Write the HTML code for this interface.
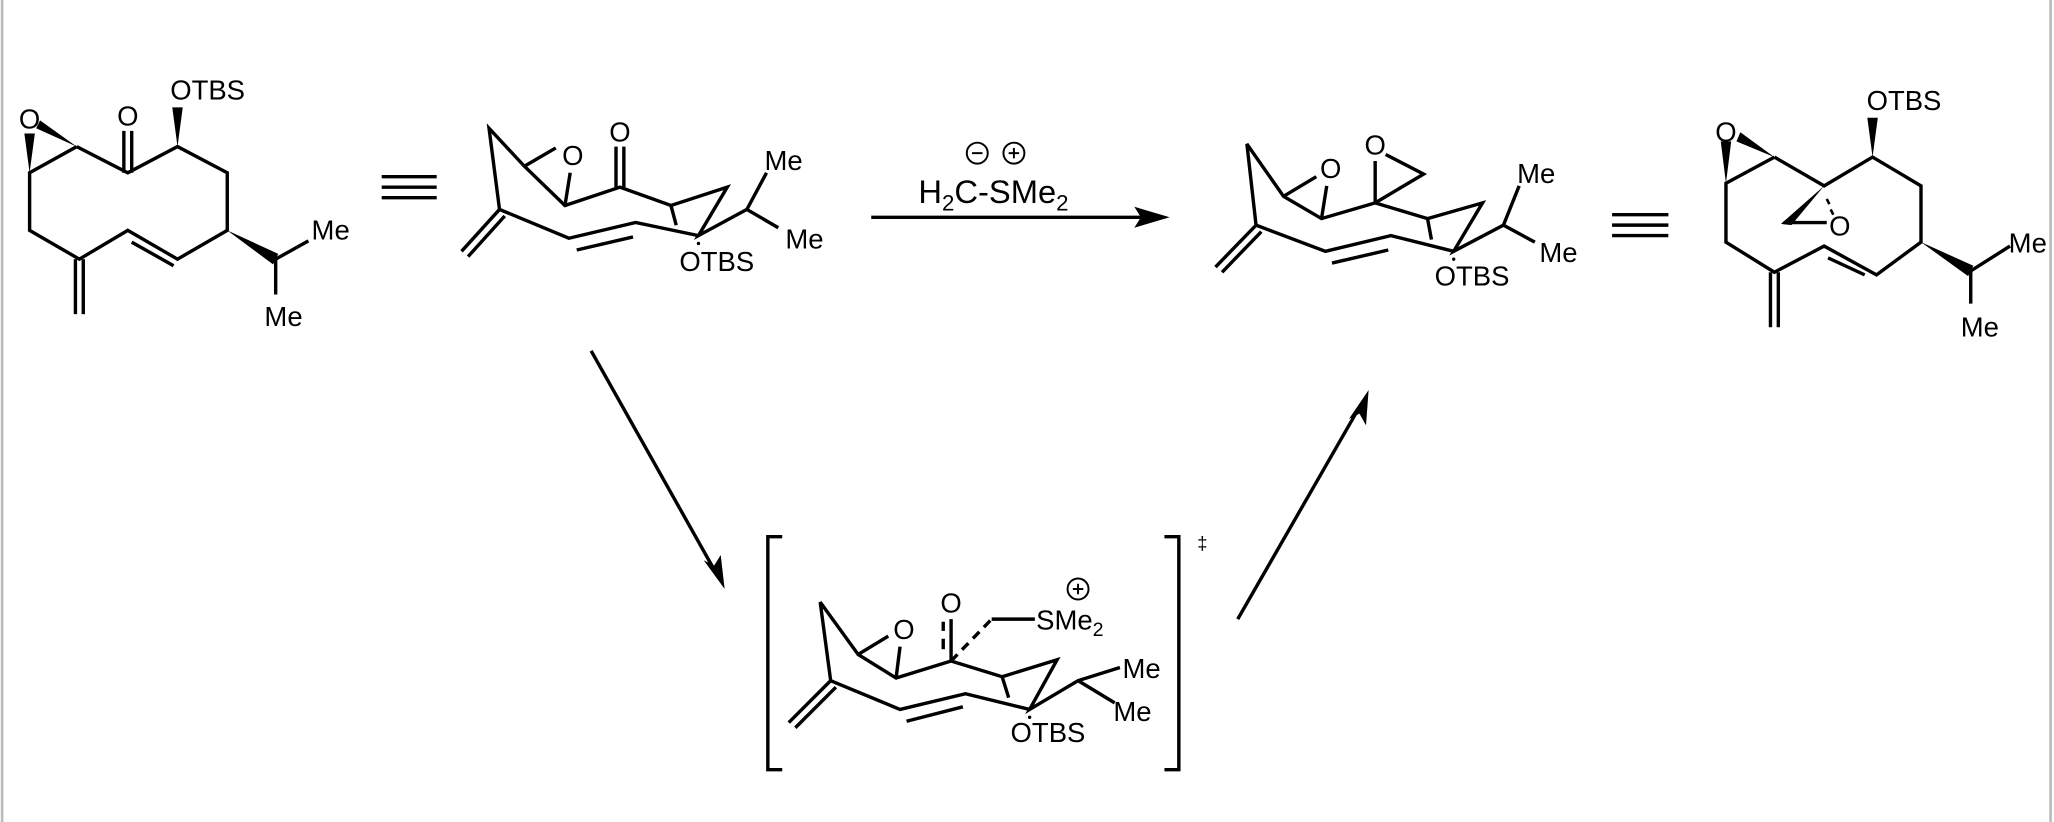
<!DOCTYPE html>
<html><head><meta charset="utf-8"><style>
html,body{margin:0;padding:0;background:#fff;}
svg{display:block;}
text{font-family:"Liberation Sans",sans-serif;fill:#000;}
</style></head><body>
<svg width="2054" height="822" viewBox="0 0 1568 628" xmlns="http://www.w3.org/2000/svg">
<rect x="0" y="0" width="1568" height="628" fill="#fff"/>
<line x1="1" y1="0" x2="1" y2="628" stroke="#bbb" stroke-width="2"/>
<line x1="1566" y1="0" x2="1566" y2="628" stroke="#bbb" stroke-width="2"/>
<g stroke="#000" stroke-width="2.6" fill="none" stroke-linecap="butt" stroke-linejoin="miter">
<!-- Molecule 1 -->
<polyline points="58,112 97,132 135,112 173,132 173,176 135,198 97,176 60,198 22,176 22,132 58,112"/>
<line x1="100" y1="185" x2="132" y2="203" />
<line x1="94" y1="100" x2="94" y2="132"/><line x1="100" y1="100" x2="100" y2="132"/>
<line x1="57" y1="198" x2="57" y2="240"/><line x1="63" y1="198" x2="63" y2="240"/>
<polyline points="235,184 210,198 210,225"/>
<!-- equiv 1 -->
<line x1="291" y1="135" x2="333" y2="135"/><line x1="291" y1="143" x2="333" y2="143"/><line x1="291" y1="151" x2="333" y2="151"/>
<!-- Molecule 2 -->
<polyline points="352,192 381,160"/><line x1="357" y1="196" x2="385" y2="165"/>
<polyline points="381,160 373,98 400,127 431,157 473,143 512,157 555,143 533,180 570,160 585,132"/>
<line x1="400" y1="127" x2="424" y2="113"/><line x1="431" y1="157" x2="435" y2="132"/>
<line x1="470" y1="112" x2="470" y2="143"/><line x1="476" y1="112" x2="476" y2="143"/>
<line x1="512" y1="157" x2="516" y2="172"/>
<line x1="570" y1="160" x2="594" y2="174"/>
<polyline points="381,160 434,182 485,170 533,180"/>
<line x1="440" y1="191" x2="483" y2="181"/>
<!-- top arrow -->
<line x1="665" y1="166" x2="875" y2="166"/>
<circle cx="746" cy="117" r="8" stroke-width="1.5"/><line x1="742" y1="117" x2="750" y2="117" stroke-width="1.5"/>
<circle cx="774" cy="117" r="8" stroke-width="1.5"/><line x1="770" y1="117" x2="778" y2="117" stroke-width="1.5"/><line x1="774" y1="113" x2="774" y2="121" stroke-width="1.5"/>
<!-- Molecule 3 -->
<line x1="928" y1="204" x2="959" y2="172"/><line x1="933" y1="208" x2="963" y2="177"/>
<polyline points="959,172 952,110 980,150 1009,167 1050,155 1090,167 1132,155 1110,192 1148,172 1160,142"/>
<line x1="980" y1="150" x2="1005" y2="135"/><line x1="1009" y1="167" x2="1013" y2="142"/>
<line x1="1050" y1="155" x2="1050" y2="123"/><polyline points="1058,118 1087,133 1050,155"/>
<line x1="1090" y1="167" x2="1093" y2="183"/>
<line x1="1148" y1="172" x2="1172" y2="185"/>
<polyline points="959,172 1012,192 1062,180 1110,192"/>
<line x1="1017" y1="201" x2="1060" y2="191"/>
<!-- equiv 2 -->
<line x1="1231" y1="164" x2="1274" y2="164"/><line x1="1231" y1="172" x2="1274" y2="172"/><line x1="1231" y1="180" x2="1274" y2="180"/>
<!-- Molecule 4 -->
<polyline points="1355,120 1393,142 1430,120 1467,142 1467,185 1433,210 1393,188 1355,208 1318,185 1318,140 1355,120"/>
<line x1="1396" y1="197" x2="1424" y2="210" />
<line x1="1352" y1="208" x2="1352" y2="250"/><line x1="1358" y1="208" x2="1358" y2="250"/>
<line x1="1362" y1="170" x2="1395" y2="170"/>
<line x1="1395" y1="152" x2="1397" y2="156" stroke-width="2"/><line x1="1398" y1="160" x2="1400" y2="164" stroke-width="2"/>
<polyline points="1535,188 1505,207 1505,232"/>
<!-- diagonal arrows -->
<line x1="451" y1="268" x2="546" y2="437"/>
<line x1="945" y1="473" x2="1038" y2="311"/>
<!-- brackets -->
<polyline points="597,410 586,410 586,588 597,588"/>
<polyline points="889,410 900,410 900,588 889,588"/>
<!-- TS -->
<line x1="602" y1="552" x2="634" y2="520"/><line x1="607" y1="556" x2="638" y2="525"/>
<polyline points="634,520 626,460 655,500 684,518 726,505 765,517 807,504 786,542 823,520 855,510"/>
<line x1="655" y1="500" x2="678" y2="486"/><line x1="684" y1="518" x2="687" y2="494"/>
<line x1="726" y1="505" x2="726" y2="473"/>
<line x1="720" y1="475" x2="720" y2="482"/><line x1="720" y1="488" x2="720" y2="496"/>
<line x1="726" y1="505" x2="757" y2="473" stroke-dasharray="7,5"/>
<line x1="757" y1="473" x2="790" y2="473"/>
<line x1="765" y1="517" x2="770" y2="533"/>
<line x1="823" y1="520" x2="851" y2="537"/>
<polyline points="634,520 687,542 737,530 786,542"/>
<line x1="692" y1="551" x2="735" y2="540"/>
<circle cx="823" cy="450" r="8" stroke-width="1.5"/><line x1="819" y1="450" x2="827" y2="450" stroke-width="1.5"/><line x1="823" y1="446" x2="823" y2="454" stroke-width="1.5"/>
</g>
<g fill="#000">
<polygon points="58,112 30,92 27,98"/>
<polygon points="22,132 18,102 26,102"/>
<polygon points="135,112 131,82 139,82"/>
<polygon points="173,176 212,194 208,202"/>
<polygon points="1355,120 1329,101 1326,108"/>
<polygon points="1318,140 1314,108 1322,108"/>
<polygon points="1430,120 1426,90 1434,90"/>
<polygon points="1467,185 1507,203 1503,211"/>
<polygon points="1393,142 1360,171 1368,172"/>
<polygon points="893,166 866,158 871,166 866,174"/>
<polygon points="553,450 537,428 545,432 550,424"/>
<polygon points="1045,298 1030,320 1038,316 1043,325"/>
<circle cx="533" cy="186" r="1.3"/><circle cx="1110" cy="198" r="1.3"/><circle cx="786" cy="548" r="1.3"/>
</g>
<g font-size="21">
<text x="158" y="76" text-anchor="middle">OTBS</text>
<text x="22" y="98" text-anchor="middle">O</text>
<text x="97" y="96" text-anchor="middle">O</text>
<text x="252" y="183" text-anchor="middle">Me</text>
<text x="216" y="249" text-anchor="middle">Me</text>
<text x="437" y="126" text-anchor="middle">O</text>
<text x="473" y="108" text-anchor="middle">O</text>
<text x="598" y="130" text-anchor="middle">Me</text>
<text x="614" y="190" text-anchor="middle">Me</text>
<text x="547" y="207" text-anchor="middle">OTBS</text>
<text x="1016" y="136" text-anchor="middle">O</text>
<text x="1050" y="118" text-anchor="middle">O</text>
<text x="1173" y="140" text-anchor="middle">Me</text>
<text x="1190" y="200" text-anchor="middle">Me</text>
<text x="1124" y="218" text-anchor="middle">OTBS</text>
<text x="1454" y="84" text-anchor="middle">OTBS</text>
<text x="1318" y="108" text-anchor="middle">O</text>
<text x="1405" y="180" text-anchor="middle">O</text>
<text x="1534" y="193">Me</text>
<text x="1512" y="257" text-anchor="middle">Me</text>
<text x="690" y="488" text-anchor="middle">O</text>
<text x="726" y="468" text-anchor="middle">O</text>
<text x="791" y="481">SMe<tspan font-size="15" dy="5">2</tspan></text>
<text x="857" y="518">Me</text>
<text x="850" y="551">Me</text>
<text x="800" y="567" text-anchor="middle">OTBS</text>
</g>
<text x="701" y="155" font-size="25">H<tspan font-size="17" dy="6">2</tspan><tspan dy="-6">C-SMe</tspan><tspan font-size="17" dy="6">2</tspan></text>
<text x="918" y="420" font-size="14" text-anchor="middle">‡</text>
</svg>
</body></html>
